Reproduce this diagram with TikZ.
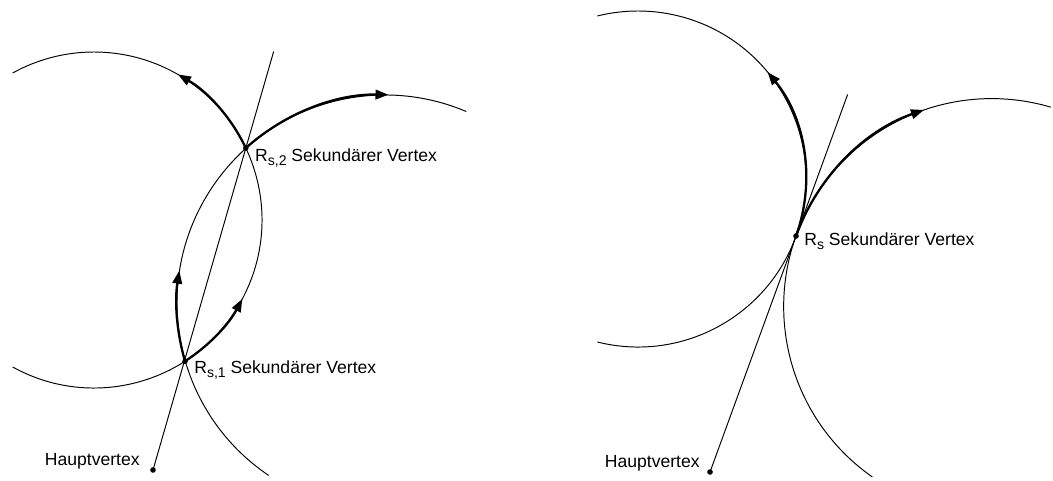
\documentclass[tikz,border=0pt]{standalone}
\usepackage{fontspec}
\setmainfont{Liberation Sans}
\usepackage{tikz}
\usetikzlibrary{calc,arrows.meta}
\tikzstyle{kreis} = [draw, line width=0.55pt]
\tikzstyle{bahn} = [draw, line width=1.3pt, -{Triangle[length=2.6mm,width=1.9mm]}]
\tikzstyle{vtx} = [anchor=base west, inner sep=0pt]
\newcommand{\idx}[1]{\raisebox{-0.5ex}{\footnotesize #1}}

\begin{document}
\begin{tikzpicture}[x=0.02cm,y=0.02cm]
   		\useasboundingbox (0,0) rectangle (1053,480);
   		% left: two intersecting circles
   		\coordinate (cl1) at (94,260);                  % centre left circle
   		\coordinate (cr1) at (385,177);                 % centre right circle
   		\coordinate (hv1) at (153,10);                  % Hauptvertex
   		\coordinate (rs1) at ($(cl1)+(-57.2:168)$);     % lower intersection
   		\coordinate (rs2) at ($(cl1)+(25.35:168)$);     % upper intersection
   		\coordinate (t1)  at ($(hv1)!1.3!(rs2)$);       % end of line
   		\draw[kreis] (cl1) ++(-119:168) arc[start angle=-119, end angle=119, radius=168];
   		\draw[kreis] (cr1) ++(236:208)  arc[start angle=236, end angle=67, radius=208];
   		\draw[kreis] (hv1) -- (t1);
   		\draw[bahn] (rs2) arc[start angle=25.35, end angle=60, radius=168];
   		\draw[bahn] (rs1) arc[start angle=-57.2, end angle=-28, radius=168];
   		\draw[bahn] (rs1) arc[start angle=196.2, end angle=171, radius=208];
   		\draw[bahn] (rs2) arc[start angle=131.96, end angle=89, radius=208];
   		\fill (rs1) circle (2.8);
   		\fill (rs2) circle (2.8);
   		\fill (hv1) circle (2.8);
   		\node[vtx] (l1) at ($(rs1)+(9,-12)$) {R\idx{s,1} Sekundärer Vertex};
   		\node[vtx] (l2) at ($(rs2)+(9,-13)$) {R\idx{s,2} Sekundärer Vertex};
   		\node[anchor=base east, inner sep=0pt] (h1) at ($(hv1)+(-13,5)$) {Hauptvertex};

   		% right: two touching circles
   		\coordinate (cl2) at (638,301);                 % centre left circle
   		\coordinate (cr2) at ($(cl2)+(-19.84:376)$);    % centre right circle
   		\coordinate (rs)  at ($(cl2)+(-19.84:168)$);    % point of contact
   		\coordinate (hv2) at (710,8);                   % Hauptvertex
   		\coordinate (t2)  at ($(hv2)!1.6!(rs)$);        % end of line
   		\draw[kreis] (cl2) ++(-104:168) arc[start angle=-104, end angle=104, radius=168];
   		\draw[kreis] (cr2) ++(235:208)  arc[start angle=235, end angle=73.5, radius=208];
   		\draw[kreis] (hv2) -- (t2);
   		\draw[bahn] (rs) arc[start angle=-19.84, end angle=39.5, radius=168];
   		\draw[bahn] (rs) arc[start angle=160.16, end angle=109, radius=208];
   		\fill (rs)  circle (2.8);
   		\fill (hv2) circle (2.8);
   		\node[vtx] (l3) at ($(rs)+(8,-9)$) {R\idx{s} Sekundärer Vertex};
   		\node[anchor=base east, inner sep=0pt] (h2) at ($(hv2)+(-10,5)$) {Hauptvertex};
\end{tikzpicture}
\end{document}
